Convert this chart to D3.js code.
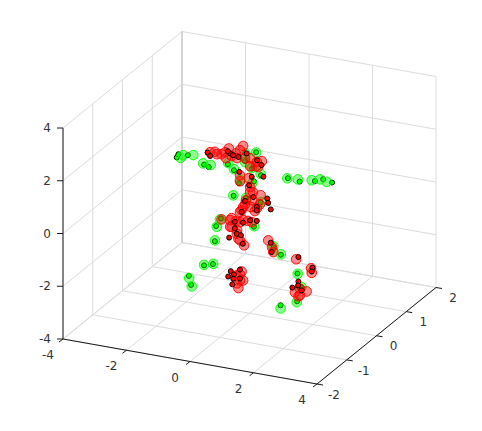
<!DOCTYPE html>
<html>
<head>
<meta charset="utf-8">
<script src="https://d3js.org/d3.v7.min.js"></script>
<style>
  html, body { margin: 0; background: #fff; }
  text { font-family: "DejaVu Sans", sans-serif; font-size: 12px; fill: #333; }
</style>
</head>
<body>
<div id="chart"></div>
<script>
const width = 482;
const height = 431;

const xTicks = [-4, -2, 0, 2, 4];
const yTicks = [-2, -1, 0, 1, 2];
const zTicks = [-4, -2, 0, 2, 4];

// Depth can't be read from a single view, so all points sit on this y
const yDepth = 0;

// Big translucent markers
const redBigX = [-1.09, -0.88, -1.03, -0.65, -0.43, -0.20, -0.56, 0.23, 0.02, 0.27, -0.30, 0.02, 0.02, 0.35, -0.11, 0.04, -0.25, 0.33, -0.14, -0.20, 0.23, -0.61, -0.30, -0.05, -0.61, -0.88, -0.20, -0.56, -0.35, -0.17, -0.40, 0.59, 0.75, 1.47, 1.96, -0.25, -0.30, -0.35, -0.40, 1.59, 1.80, 1.54, -0.56, -0.30, -1.24, -0.77, -0.30, -0.14, -0.74, -0.39, 0.21, 0.02, 0.39, -0.30, -0.02, 0.08, 0.11, 0.17, -0.43, 0.08, -0.39, -0.30, 1.59, 1.43, 1.94, -0.30, -0.20, -0.39, 0.71];
const redBigZ = [1.89, 1.84, 1.81, 2.11, 1.97, 2.30, 1.84, 1.79, 1.88, 1.60, 1.17, 0.79, 0.60, 0.55, 0.26, 0.04, -0.15, 0.20, 0.10, -0.01, 0.03, -0.60, -0.61, -0.51, -0.85, -0.63, -0.51, -0.84, -1.25, -1.46, -1.07, -1.11, -1.52, -1.64, -2.05, -2.47, -2.82, -3.12, -2.65, -2.73, -2.79, -3.03, -0.51, -0.22, 1.84, 1.94, 2.12, 1.85, 1.72, 1.80, 1.62, 1.58, 1.85, 0.94, 1.12, 0.30, 0.61, -0.09, -0.60, -0.53, -0.93, -1.30, -2.98, -2.90, -1.88, -2.59, -2.80, -2.95, -1.35];
const greenBigX = [-2.09, -1.77, -2.17, -1.46, -1.22, -0.67, -0.49, -0.12, 0.21, -0.14, 0.07, 0.35, -0.30, 0.08, -0.51, -0.11, 0.38, -0.93, -1.03, -1.09, 0.15, -1.43, -1.14, -1.90, -1.82, 0.75, 0.99, 1.52, 1.64, 1.49, 0.98, 1.19, 1.52, 1.96, 2.22, 2.43];
const greenBigZ = [1.55, 1.62, 1.43, 1.37, 1.36, 1.55, 1.36, 2.02, 2.14, 1.70, 1.52, 1.36, 0.99, 0.94, 0.36, 0.35, 0.30, -0.64, -0.94, -1.47, -0.67, -2.47, -2.37, -3.07, -3.37, -1.30, -1.55, -2.18, -2.66, -3.26, -3.61, 1.37, 1.40, 1.46, 1.55, 1.50];

// Small black edged markers
const redSmallX = [-1.32, -1.24, -0.61, -0.35, -0.09, 0.38, 0.44, -0.32, -0.01, 0.12, 0.56, 0.59, 0.67, 0.23, 0.23, -0.25, -0.14, -0.46, -0.20, 0.02, 0.23, -0.46, -0.40, -0.27, -0.64, -0.21, 0.67, 0.70, 1.54, 1.98, 1.96, -0.59, -0.49, -0.67, -0.51, -0.30, -0.54, -0.30, 1.54, 1.35, 1.64, 1.53, -0.68, -0.52, 0.24, 0.07];
const redSmallZ = [1.81, 1.70, 1.93, 1.85, 2.04, 1.70, 1.27, 1.29, 0.85, 0.43, 0.47, 0.31, 0.08, 0.08, -0.05, -0.21, 0.23, -0.63, -0.61, -0.47, -0.45, -0.88, -1.07, -1.10, -1.27, -1.41, -1.18, -1.53, -1.54, -1.85, -2.00, -2.53, -2.63, -2.75, -2.80, -2.75, -3.02, -2.41, -2.47, -2.74, -2.78, -2.62, 2.00, 1.88, 1.85, 1.19];
const greenSmallX = [-2.29, -2.24, -1.94, -1.43, -1.28, -0.68, -0.49, -0.13, 0.21, -0.14, 0.08, 0.36, -0.33, 0.14, -0.50, -0.11, 0.35, -0.90, -1.05, -1.09, 0.14, -1.43, -1.15, -1.91, -1.84, 0.76, 0.99, 1.51, 1.64, 1.50, 0.98, 1.21, 1.58, 2.06, 2.32, 2.60];
const greenSmallZ = [1.42, 1.55, 1.58, 1.33, 1.27, 1.51, 1.32, 2.04, 2.15, 1.74, 1.50, 1.31, 0.86, 1.03, 0.35, 0.34, 0.28, -0.60, -0.92, -1.50, -0.69, -2.49, -2.38, -2.99, -3.32, -1.34, -1.57, -2.17, -2.67, -3.23, -3.49, 1.38, 1.33, 1.45, 1.58, 1.51];

// Oblique view of the box, each scale gives the shift along that data axis
const origin = [63, 339];
const xPos = d3.scaleLinear().domain([-4, 4]).range([[0, 0], [254, 45]]);
const yPos = d3.scaleLinear().domain([-2, 2]).range([[0, 0], [119, -96.5]]);
const zPos = d3.scaleLinear().domain([-4, 4]).range([[0, 0], [0, -211]]);

function project(x, y, z) {
  const a = xPos(x), b = yPos(y), c = zPos(z);
  return [origin[0] + a[0] + b[0] + c[0], origin[1] + a[1] + b[1] + c[1]];
}

const svg = d3.select('#chart')
  .append('svg')
    .attr('width', width)
    .attr('height', height)
    .style('display', 'block');

function segment(g, p, q, color) {
  g.append('line')
    .attr('x1', p[0]).attr('y1', p[1])
    .attr('x2', q[0]).attr('y2', q[1])
    .attr('stroke', color)
    .attr('stroke-width', 1);
}

// Grid on the floor and the two back walls
const grid = svg.append('g');
const gridColor = '#dcdcdc';
xTicks.forEach(x => {
  segment(grid, project(x, -2, -4), project(x, 2, -4), gridColor);
  segment(grid, project(x, 2, -4), project(x, 2, 4), gridColor);
});
yTicks.forEach(y => {
  segment(grid, project(-4, y, -4), project(4, y, -4), gridColor);
  segment(grid, project(-4, y, -4), project(-4, y, 4), gridColor);
});
zTicks.forEach(z => {
  segment(grid, project(-4, -2, z), project(-4, 2, z), gridColor);
  segment(grid, project(-4, 2, z), project(4, 2, z), gridColor);
});
segment(grid, project(-4, 2, -4), project(-4, 2, 4), '#c4c4c4');

// Axes and ticks
const axes = svg.append('g');
const axisColor = '#1a1a1a';
segment(axes, project(-4, -2, -4), project(4, -2, -4), axisColor);
segment(axes, project(4, -2, -4), project(4, 2, -4), axisColor);
segment(axes, project(-4, -2, -4), project(-4, -2, 4), axisColor);

xTicks.forEach(x => {
  const p = project(x, -2, -4);
  segment(axes, p, [p[0] - 4, p[1] + 3], axisColor);
  axes.append('text')
    .attr('x', p[0] - 15).attr('y', p[1] + 16)
    .attr('dy', '0.35em')
    .attr('text-anchor', 'middle')
    .text(x);
});
yTicks.forEach(y => {
  const p = project(4, y, -4);
  segment(axes, p, [p[0] + 6, p[1] + 1], axisColor);
  axes.append('text')
    .attr('x', p[0] + 17).attr('y', p[1] + 10.5)
    .attr('dy', '0.35em')
    .attr('text-anchor', 'middle')
    .text(y);
});
zTicks.forEach(z => {
  const p = project(-4, -2, z);
  segment(axes, p, [p[0] - 6, p[1]], axisColor);
  axes.append('text')
    .attr('x', p[0] - 12).attr('y', p[1])
    .attr('dy', '0.35em')
    .attr('text-anchor', 'end')
    .text(z);
});

// Markers
const marks = svg.append('g');

function bigMarkers(xs, zs, color) {
  marks.append('g')
    .selectAll('circle')
    .data(xs.map((x, i) => project(x, yDepth, zs[i])))
    .join('circle')
      .attr('cx', d => d[0])
      .attr('cy', d => d[1])
      .attr('r', 4.8)
      .attr('fill', color)
      .attr('fill-opacity', 0.45)
      .attr('stroke', color)
      .attr('stroke-opacity', 0.9)
      .attr('stroke-width', 1);
}

function smallMarkers(xs, zs, color) {
  marks.append('g')
    .selectAll('circle')
    .data(xs.map((x, i) => project(x, yDepth, zs[i])))
    .join('circle')
      .attr('cx', d => d[0])
      .attr('cy', d => d[1])
      .attr('r', 2.5)
      .attr('fill', color)
      .attr('stroke', '#000')
      .attr('stroke-width', 1);
}

smallMarkers(greenSmallX, greenSmallZ, '#00ff00');
bigMarkers(greenBigX, greenBigZ, '#00ff00');
bigMarkers(redBigX, redBigZ, '#ff0000');
smallMarkers(redSmallX, redSmallZ, '#ff0000');
</script>
</body>
</html>
